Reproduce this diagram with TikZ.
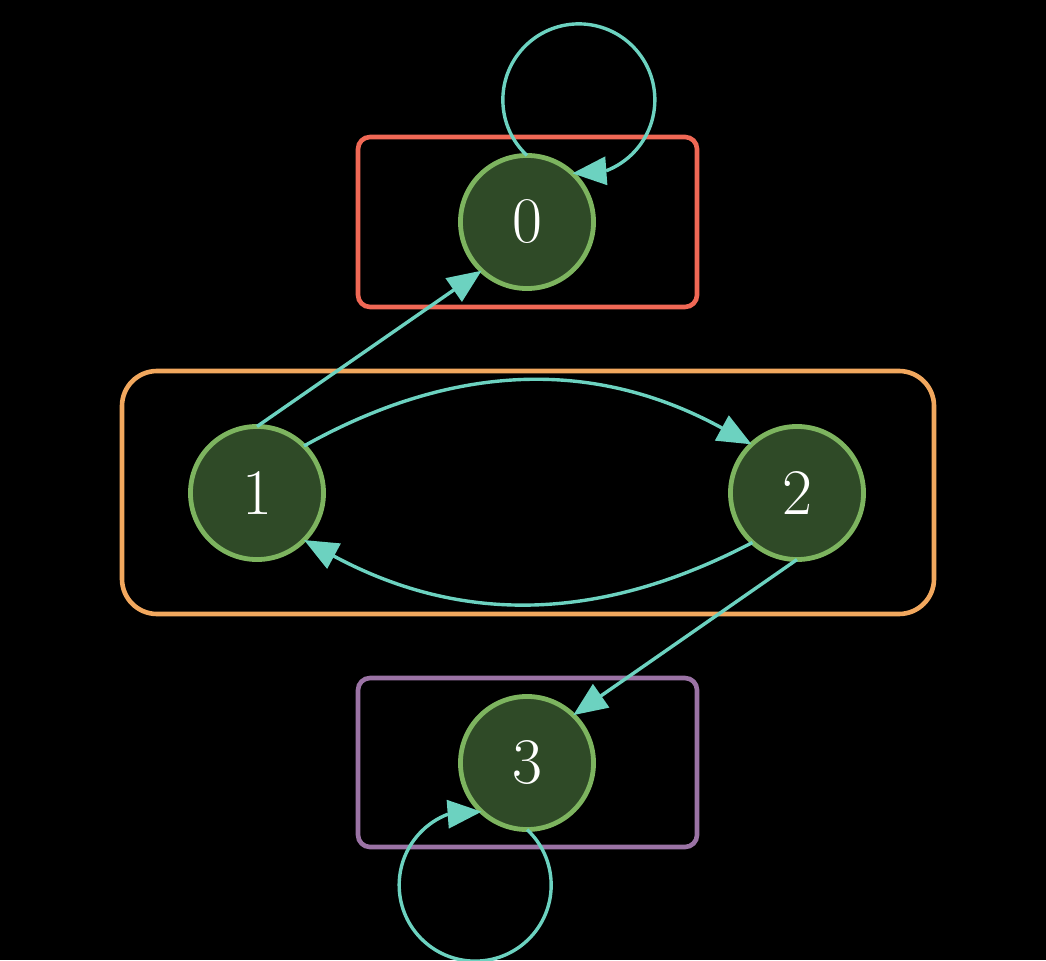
\documentclass[tikz,border=0pt]{standalone}
\usetikzlibrary{arrows.meta}
\definecolor{edgecol}{RGB}{108,210,192}
\definecolor{nodefill}{RGB}{47,74,39}
\definecolor{nodeline}{RGB}{125,180,95}
\definecolor{boxred}{RGB}{240,104,85}
\definecolor{boxorange}{RGB}{242,168,94}
\definecolor{boxpurple}{RGB}{155,115,165}
\begin{document}
\begin{tikzpicture}[x=0.01cm,y=0.01cm,
  state/.style={circle, draw=nodeline, fill=nodefill, line width=0.048cm,
    minimum size=1.33cm, inner sep=0pt, outer sep=0pt, text=white,
    font=\fontsize{18.5}{21}\selectfont},
  edge/.style={draw=edgecol, line width=0.034cm,
    -{Triangle[length=0.34cm,width=0.28cm]}, color=edgecol},
  plain/.style={draw=edgecol, line width=0.034cm},
  group/.style={line width=0.046cm}]
  \fill[black] (0,0) rectangle (1046,960);
  \useasboundingbox (0,0) rectangle (1046,960);
  \clip (0,0) rectangle (1046,960);

  % cluster frames
  \draw[group, boxred, rounded corners=0.12cm] (358,653) rectangle (697,823);
  \draw[group, boxorange, rounded corners=0.35cm] (122,346) rectangle (934,589);
  \draw[group, boxpurple, rounded corners=0.12cm] (358,113) rectangle (697,282);

  % states
  \node[state] (n0) at (527,738) {0};
  \node[state] (n1) at (257,467) {1};
  \node[state] (n2) at (797,467) {2};
  \node[state] (n3) at (527,197) {3};

  % transitions
  \draw[edge] (n1.90) -- (n0.227);
  \draw[edge] (n2.270) -- (n3.46);
  \draw[edge] (n1.45) to[bend left=29] (n2.133);
  \draw[edge] (n2.228) to[bend left=28] (n1.-45);

  % self-loops
  \draw[plain] (n0.90) arc[start angle=227, end angle=-69, radius=76] coordinate (l0);
  \draw[edge] (l0) -- (n0.47);
  \draw[plain] (n3.270) arc[start angle=47, end angle=-249, radius=76] coordinate (l3);
  \draw[edge] (l3) -- (n3.227);
\end{tikzpicture}
\end{document}
